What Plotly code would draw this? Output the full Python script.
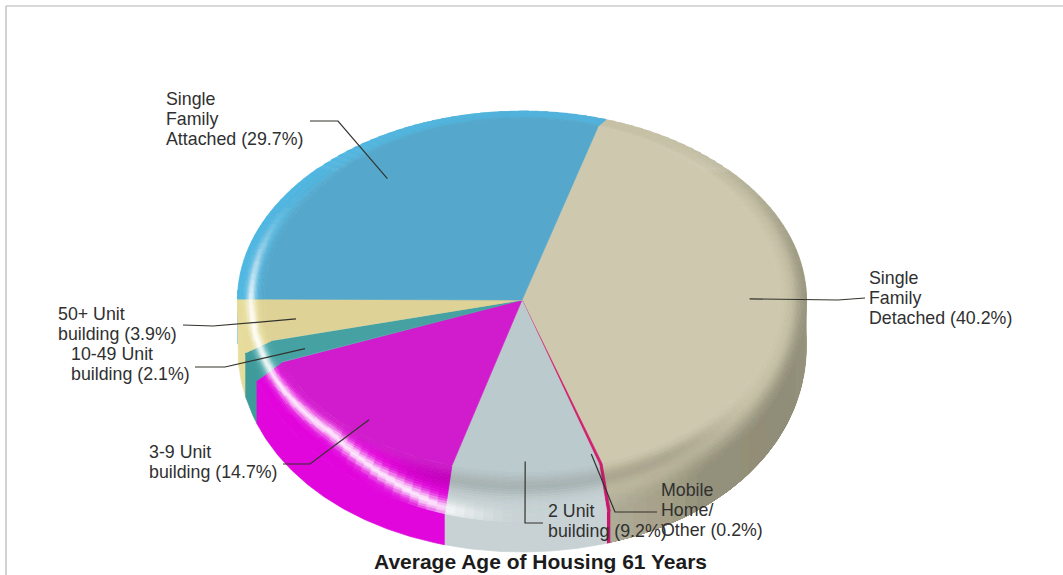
import numpy as np
import plotly.graph_objects as go

# ---- data ----
names = ["Single Family Detached", "Mobile Home/Other", "2 Unit building",
         "3-9 Unit building", "10-49 Unit building", "50+ Unit building",
         "Single Family Attached"]
values = [40.2, 0.2, 9.2, 14.7, 2.1, 3.9, 29.7]
label_lines = [["Single", "Family", "Detached (40.2%)"],
               ["Mobile", "Home/", "Other (0.2%)"],
               ["2 Unit", "building (9.2%)"],
               ["3-9 Unit", "building (14.7%)"],
               ["10-49 Unit", "building (2.1%)"],
               ["50+ Unit", "building (3.9%)"],
               ["Single", "Family", "Attached (29.7%)"]]
title_text = "Average Age of Housing 61 Years"

# ---- styles ----
top_colors = ["#cdc8ae", "#d0206e", "#bbcacc", "#d01ccc", "#46a2a2", "#ded296", "#55a8cc"]
rim_colors = ["#c6c1a6", "#d8207a", "#c4d0d2", "#e400dc", "#4aaaaa", "#e4d996", "#52b2da"]
side_colors = ["#a4a088", "#c8186a", "#c8d2d4", "#e006dc", "#3f9a9a", "#e6dc9c", "#4fb6e2"]
CX, CY = 522, 300
RX_IN, RX_OUT = 258, 284.5
RY_UP_IN, RY_UP_OUT = 182, 189
RY_LO_IN, RY_LO_OUT = 172, 222
START = 17.2
label_x = [869, 661, 548, 149, 71, 58, 166]
label_y = [278, 490, 511, 452, 354, 314, 99]
line_gap = 20
leader_via = [[(838, 300), (865, 298)], [(615, 512), (657, 512)], [(525, 523), (543, 523)],
              [(310, 464), (283, 464)], [(225, 367), (195, 367)], [(213, 326), (183, 325)],
              [(338, 121), (310, 121)]]


def point(theta, t):
    a = np.radians(theta)
    c = np.cos(a)
    rx = RX_IN + (RX_OUT - RX_IN) * t
    ry = np.where(c >= 0, RY_UP_IN + (RY_UP_OUT - RY_UP_IN) * t,
                  RY_LO_IN + (RY_LO_OUT - RY_LO_IN) * t)
    return CX + rx * np.sin(a), CY - ry * c


def smooth(a, b, x):
    u = np.clip((x - a) / (b - a), 0, 1)
    return u * u * (3 - 2 * u)


def norm_angle(theta):
    th = theta % 360
    return th + 360 if th < 17 else th


def to_rgb(col):
    return np.array([int(col[i:i + 2], 16) for i in (1, 3, 5)], float)


def blend(a, b, u):
    return a + (b - a) * u


def side_rgb(i, theta):
    base = to_rgb(side_colors[i])
    if i != 0:
        return base
    th = norm_angle(theta)
    s = np.interp(th, [17, 70, 110, 140, 165], [0.14, -0.02, -0.12, -0.10, 0.16])
    return blend(base, np.full(3, 255.0 if s > 0 else 0.0), abs(s))


def rim_rgb(i, theta, t):
    th = norm_angle(theta)
    c = blend(to_rgb(top_colors[i]), to_rgb(rim_colors[i]), smooth(0, .35, t))
    edge = smooth(.3, 1, t) * smooth(20, 80, th)
    if i == len(values) - 1:
        edge *= 1 - smooth(315, 365, th)
    c = blend(c, side_rgb(i, theta), edge)
    dark = .14 * np.exp(-((t - .3) / .2) ** 2) * smooth(120, 150, th) * (1 - smooth(195, 215, th))
    c = blend(c, np.zeros(3), dark)
    hl_win = smooth(180, 200, th) * (1 - smooth(262, 305, th))
    t0 = np.interp(th, [180, 196, 206, 225, 248, 270, 345], [.9, .9, .7, .35, .45, .5, .45])
    light = .9 * hl_win * np.exp(-((t - t0) / .16) ** 2)
    return blend(c, np.full(3, 255.0), light)


def hexcolor(rgb):
    q = np.clip(np.round(rgb / 3) * 3, 0, 255).astype(int)
    return "#%02x%02x%02x" % tuple(q)


fractions = np.array(values) / sum(values)
edges = START + 360 * np.concatenate([[0], np.cumsum(fractions)])

fig = go.Figure()


def add_poly(xs, ys, color, name, width=0.7):
    fig.add_trace(go.Scatter(x=xs, y=ys, mode="lines", fill="toself", fillcolor=color,
                             line=dict(color=color, width=width), name=name,
                             hoverinfo="skip", showlegend=False))


def wall(lo, hi, steps):
    th = np.linspace(lo, hi, steps)
    x, y = point(th, 1.0)
    depth = 30 + 15 * np.sin(np.radians(th)) ** 2
    return np.r_[x, x[::-1]], np.r_[y, (y + depth)[::-1]]


# side wall, drawn back to front; only the large slice gets shaded cells,
# each cell overlapping the next to keep seams away
order = [6, 0, 5, 1, 4, 2, 3]
for i in order:
    lo, hi = max(edges[i], 85), min(edges[i + 1], 273)
    if hi <= lo:
        continue
    wx, wy = wall(lo, hi, 80)
    add_poly(wx, wy, side_colors[i], names[i])
    if i == 0:
        ths = np.arange(lo, hi, 3.0)
        for a in ths:
            wx, wy = wall(a, hi, 40)
            add_poly(wx, wy, hexcolor(side_rgb(i, a + 1.5)), names[i], width=0)

# flat top of each slice
for i in range(len(values)):
    th = np.linspace(edges[i], edges[i + 1], 90)
    x, y = point(th, 0.0)
    add_poly(np.r_[CX, x, CX], np.r_[CY, y, CY], top_colors[i], names[i])

# rounded rim: cells grouped by colour
bands = np.linspace(0, 1, 21)
for i in range(len(values)):
    n = max(2, int(np.ceil((edges[i + 1] - edges[i]) / 2.0)))
    ths = np.linspace(edges[i], edges[i + 1], n + 1)
    groups = {}
    for a, b in zip(ths[:-1], ths[1:]):
        for t1, t2 in zip(bands[:-1], bands[1:]):
            col = hexcolor(rim_rgb(i, (a + b) / 2, (t1 + t2) / 2))
            arc = np.array([a, b])
            x1, y1 = point(arc, t1)
            x2, y2 = point(arc[::-1], t2)
            g = groups.setdefault(col, ([], []))
            g[0].extend(list(x1) + list(x2) + [x1[0], None])
            g[1].extend(list(y1) + list(y2) + [y1[0], None])
    for col, g in groups.items():
        add_poly(g[0], g[1], col, names[i])

# leader lines, starting inside the slice at its mid angle
for i in range(len(values)):
    mid = (edges[i] + edges[i + 1]) / 2
    a = np.radians(mid)
    ry = 188 if np.cos(a) > 0 else 202
    sx = CX + 0.8 * RX_OUT * np.sin(a)
    sy = CY - 0.8 * ry * np.cos(a)
    px = [sx] + [p[0] for p in leader_via[i]]
    py = [sy] + [p[1] for p in leader_via[i]]
    fig.add_trace(go.Scatter(x=px, y=py, mode="lines", line=dict(color="#33332d", width=1.2),
                             hoverinfo="skip", showlegend=False, name=names[i]))

# labels
for i, lines in enumerate(label_lines):
    for k, line in enumerate(lines):
        fig.add_annotation(x=label_x[i], y=label_y[i] + k * line_gap, text=line, showarrow=False,
                           xanchor="left", yanchor="middle", xshift=-2,
                           font=dict(family="Liberation Sans", size=17.8, color="#303030"))
fig.add_annotation(x=540, y=561, text="<b>" + title_text + "</b>", showarrow=False,
                   xanchor="center", yanchor="middle",
                   font=dict(family="Liberation Sans", size=21, color="#1c1c1c"))

# frame
fig.add_shape(type="line", x0=6, y0=6, x1=1063, y1=6, line=dict(color="#b4b4b4", width=1.2))
fig.add_shape(type="line", x0=6, y0=6, x1=6, y1=575, line=dict(color="#b4b4b4", width=1.2))

fig.update_xaxes(range=[0, 1063], visible=False)
fig.update_yaxes(range=[575, 0], visible=False)
fig.update_layout(width=1063, height=575, margin=dict(l=0, r=0, t=0, b=0),
                  paper_bgcolor="white", plot_bgcolor="white", showlegend=False)
fig.write_html("out.html", config={"displayModeBar": False},
               post_script="document.body.style.margin='0';document.body.style.overflow='hidden';")
